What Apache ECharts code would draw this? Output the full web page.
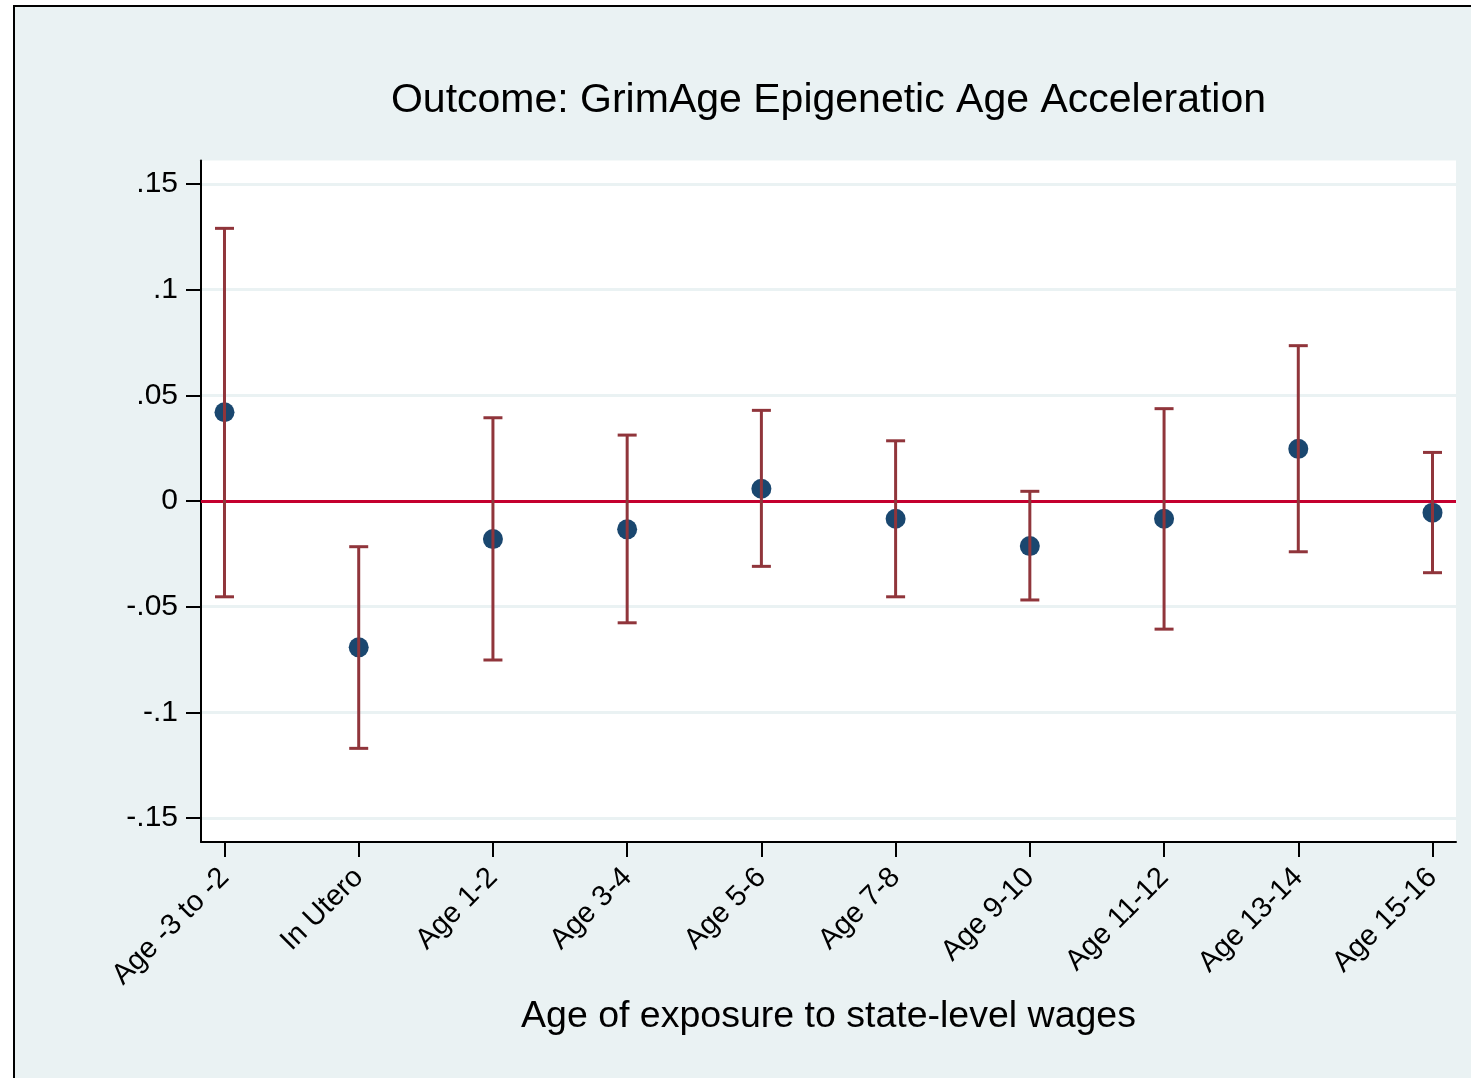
<!DOCTYPE html>
<html>
<head>
<meta charset="utf-8">
<script src="https://cdn.jsdelivr.net/npm/echarts@6/dist/echarts.min.js"></script>
<style>
  html, body { margin: 0; padding: 0; width: 1471px; height: 1078px; overflow: hidden; background: #ffffff; }
  #frame { position: absolute; left: 13px; top: 5px; width: 1520px; height: 1120px; border: 2px solid #000; background: #EAF2F3; }
  #chart { position: absolute; left: 0; top: 0; width: 1471px; height: 1078px; }
</style>
</head>
<body>
<div id="frame"></div>
<div id="chart"></div>
<script>
const categories = ['Age -3 to -2', 'In Utero', 'Age 1-2', 'Age 3-4', 'Age 5-6', 'Age 7-8', 'Age 9-10', 'Age 11-12', 'Age 13-14', 'Age 15-16'];
const estimates = [0.0420, -0.0692, -0.0180, -0.0134, 0.0058, -0.0084, -0.0213, -0.0084, 0.0247, -0.0055];
const ciLower  = [-0.0453, -0.1170, -0.0752, -0.0576, -0.0309, -0.0453, -0.0468, -0.0606, -0.0240, -0.0339];
const ciUpper  = [0.1290, -0.0216, 0.0394, 0.0312, 0.0429, 0.0285, 0.0046, 0.0437, 0.0735, 0.0230];
const yTicks = [-0.15, -0.1, -0.05, 0, 0.05, 0.1, 0.15];
const yTickLabels = ['-.15', '-.1', '-.05', '0', '.05', '.1', '.15'];
const xTicks = [1, 2, 3, 4, 5, 6, 7, 8, 9, 10];
const titleText = 'Outcome: GrimAge Epigenetic Age Acceleration';
const xTitle = 'Age of exposure to state-level wages';

const FONT = '"Liberation Sans", Arial, Helvetica, sans-serif';
const chart = echarts.init(document.getElementById('chart'), null, { renderer: 'canvas' });

const GRID = { left: 201, right: 15, top: 160.5, bottom: 236 };
const plotCenterX = GRID.left + (1471 - GRID.left - GRID.right) / 2;

const pointData = estimates.map((v, i) => [xTicks[i], v]);
const ciData = ciLower.map((lo, i) => [xTicks[i], lo, ciUpper[i]]);

const option = {
  backgroundColor: 'transparent',
  animation: false,
  graphic: [
    {
      type: 'text',
      x: plotCenterX,
      y: 101,
      silent: true,
      style: {
        text: titleText,
        fontFamily: FONT, fontSize: 41, fill: '#000',
        textAlign: 'center', textVerticalAlign: 'middle'
      }
    }
  ],
  grid: {
    left: GRID.left, right: GRID.right, top: GRID.top, bottom: GRID.bottom,
    show: true, backgroundColor: '#ffffff', borderWidth: 0,
    containLabel: false
  },
  xAxis: {
    type: 'value',
    min: 0.825, max: 10.175,
    name: xTitle,
    nameLocation: 'middle',
    nameGap: 153,
    nameTextStyle: { fontFamily: FONT, fontSize: 37.5, color: '#000' },
    axisLine: { show: true, onZero: false, lineStyle: { color: '#000', width: 2 } },
    axisTick: { show: true, length: 15, lineStyle: { color: '#000', width: 2 }, customValues: xTicks },
    axisLabel: {
      customValues: xTicks,
      rotate: 45, margin: 31,
      fontFamily: FONT, fontSize: 29, color: '#000',
      formatter: v => categories[Math.round(v) - 1]
    },
    splitLine: { show: false }
  },
  yAxis: {
    type: 'value',
    min: -0.1613, max: 0.1611,
    axisLine: { show: true, onZero: false, lineStyle: { color: '#000', width: 2 } },
    axisTick: { show: true, length: 15, lineStyle: { color: '#000', width: 2 }, customValues: yTicks },
    axisLabel: {
      customValues: yTicks,
      margin: 23,
      fontFamily: FONT, fontSize: 30, color: '#000',
      formatter: v => {
        const idx = yTicks.findIndex(t => Math.abs(t - v) < 1e-9);
        return idx >= 0 ? yTickLabels[idx] : '';
      }
    },
    splitLine: { show: true, lineStyle: { color: '#EAF2F3', width: 3 } }
  },
  series: [
    {
      type: 'scatter',
      data: pointData,
      symbol: 'circle',
      symbolSize: 20,
      itemStyle: { color: '#1A476F', opacity: 1 },
      z: 3,
      markLine: {
        silent: true,
        symbol: ['none', 'none'],
        label: { show: false },
        lineStyle: { color: '#C4002F', width: 3, type: 'solid' },
        data: [{ yAxis: 0 }],
        z: 1
      }
    },
    {
      type: 'custom',
      data: ciData,
      z: 4,
      renderItem: (params, api) => {
        const x = api.value(0);
        const lo = api.coord([x, api.value(1)]);
        const hi = api.coord([x, api.value(2)]);
        const hw = 9.5;
        const style = { stroke: '#90353B', lineWidth: 3 };
        return {
          type: 'group',
          children: [
            { type: 'line', shape: { x1: lo[0], y1: lo[1], x2: hi[0], y2: hi[1] }, style },
            { type: 'line', shape: { x1: hi[0] - hw, y1: hi[1], x2: hi[0] + hw, y2: hi[1] }, style },
            { type: 'line', shape: { x1: lo[0] - hw, y1: lo[1], x2: lo[0] + hw, y2: lo[1] }, style }
          ]
        };
      }
    }
  ]
};
chart.setOption(option);
</script>
</body>
</html>
